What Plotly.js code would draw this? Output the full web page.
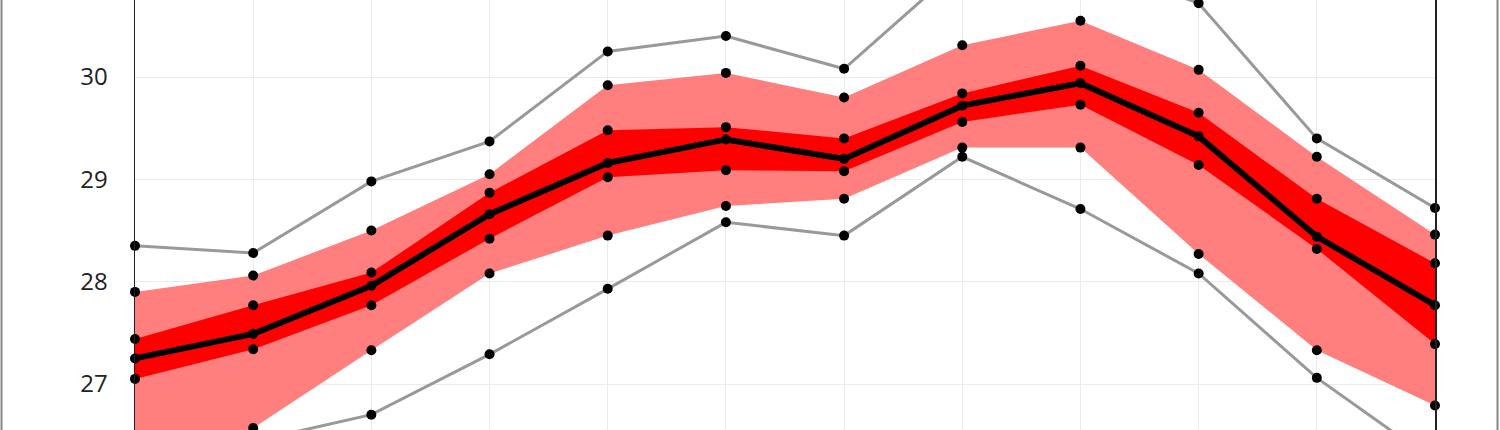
<!DOCTYPE html>
<html>
<head>
<meta charset="utf-8">
<script src="https://cdn.plot.ly/plotly-3.0.1.min.js"></script>
<style>html,body{margin:0;padding:0;background:#fff;} #chart{width:1500px;height:430px;}</style>
</head>
<body>
<div id="chart"></div>
<script>
// Month index (x positions)
var months = [0, 1, 2, 3, 4, 5, 6, 7, 8, 9, 10, 11];
// Distribution statistics per month
var maxV = [28.35, 28.28, 28.98, 29.37, 30.25, 30.40, 30.08, 31.10, 31.15, 30.72, 29.40, 28.72];
var p90  = [27.90, 28.06, 28.50, 29.05, 29.92, 30.04, 29.80, 30.31, 30.55, 30.07, 29.22, 28.46];
var p75  = [27.44, 27.77, 28.09, 28.87, 29.48, 29.51, 29.40, 29.84, 30.11, 29.65, 28.81, 28.18];
var med  = [27.25, 27.49, 27.96, 28.66, 29.16, 29.39, 29.20, 29.72, 29.94, 29.42, 28.44, 27.77];
var p25  = [27.05, 27.34, 27.77, 28.42, 29.02, 29.09, 29.08, 29.56, 29.73, 29.14, 28.32, 27.39];
var p10  = [26.20, 26.57, 27.33, 28.08, 28.45, 28.74, 28.81, 29.31, 29.31, 28.27, 27.33, 26.79];
var minV = [25.80, 26.44, 26.70, 27.29, 27.93, 28.58, 28.45, 29.22, 28.71, 28.08, 27.06, 26.24];
var yTicks = [27, 28, 29, 30];

var mk = {color: '#000', size: 10};
var traces = [
  {x: months, y: p10, mode: 'lines', line: {width: 0, color: 'rgba(0,0,0,0)'}, hoverinfo: 'skip', showlegend: false},
  {x: months, y: p90, mode: 'lines', fill: 'tonexty', fillcolor: '#ff7f7f', line: {width: 0, color: 'rgba(0,0,0,0)'}, showlegend: false},
  {x: months, y: p25, mode: 'lines', line: {width: 0, color: 'rgba(0,0,0,0)'}, hoverinfo: 'skip', showlegend: false},
  {x: months, y: p75, mode: 'lines', fill: 'tonexty', fillcolor: '#ff0000', line: {width: 0, color: 'rgba(0,0,0,0)'}, showlegend: false},
  {x: months, y: minV, mode: 'lines+markers', line: {color: '#999999', width: 3}, marker: mk, cliponaxis: false, showlegend: false},
  {x: months, y: maxV, mode: 'lines+markers', line: {color: '#999999', width: 3}, marker: mk, cliponaxis: false, showlegend: false},
  {x: months, y: p10, mode: 'markers', marker: mk, cliponaxis: false, showlegend: false},
  {x: months, y: p90, mode: 'markers', marker: mk, cliponaxis: false, showlegend: false},
  {x: months, y: p25, mode: 'markers', marker: mk, cliponaxis: false, showlegend: false},
  {x: months, y: p75, mode: 'markers', marker: mk, cliponaxis: false, showlegend: false},
  {x: months, y: med, mode: 'lines+markers', line: {color: '#000', width: 6}, marker: mk, cliponaxis: false, showlegend: false}
];

var layout = {
  width: 1500, height: 430,
  margin: {l: 135, r: 65, t: 0, b: 0, pad: 0},
  paper_bgcolor: '#fff', plot_bgcolor: '#fff',
  showlegend: false,
  xaxis: {
    range: [0, 11], showgrid: true, gridcolor: '#ebebeb', gridwidth: 1,
    tickvals: months, showticklabels: false, zeroline: false, showline: false, ticks: ''
  },
  yaxis: {
    range: [26.5505, 30.7525], tickvals: yTicks, ticktext: yTicks.map(String),
    showgrid: true, gridcolor: '#ebebeb', gridwidth: 1, zeroline: false,
    showline: true, mirror: true, linecolor: '#222', linewidth: 1.5,
    ticks: 'outside', ticklen: 21, tickcolor: 'rgba(0,0,0,0)',
    tickfont: {family: 'Open Sans, sans-serif', size: 24, color: '#222'}
  },
  shapes: [
    {type: 'line', xref: 'paper', yref: 'paper', x0: (1.5 - 135) / 1300, x1: (1.5 - 135) / 1300, y0: -1, y1: 2, line: {color: '#888', width: 2}},
    {type: 'line', xref: 'paper', yref: 'paper', x0: (1497.5 - 135) / 1300, x1: (1497.5 - 135) / 1300, y0: -1, y1: 2, line: {color: '#888', width: 2}}
  ]
};

Plotly.newPlot('chart', traces, layout, {displayModeBar: false, staticPlot: true});
</script>
</body>
</html>
